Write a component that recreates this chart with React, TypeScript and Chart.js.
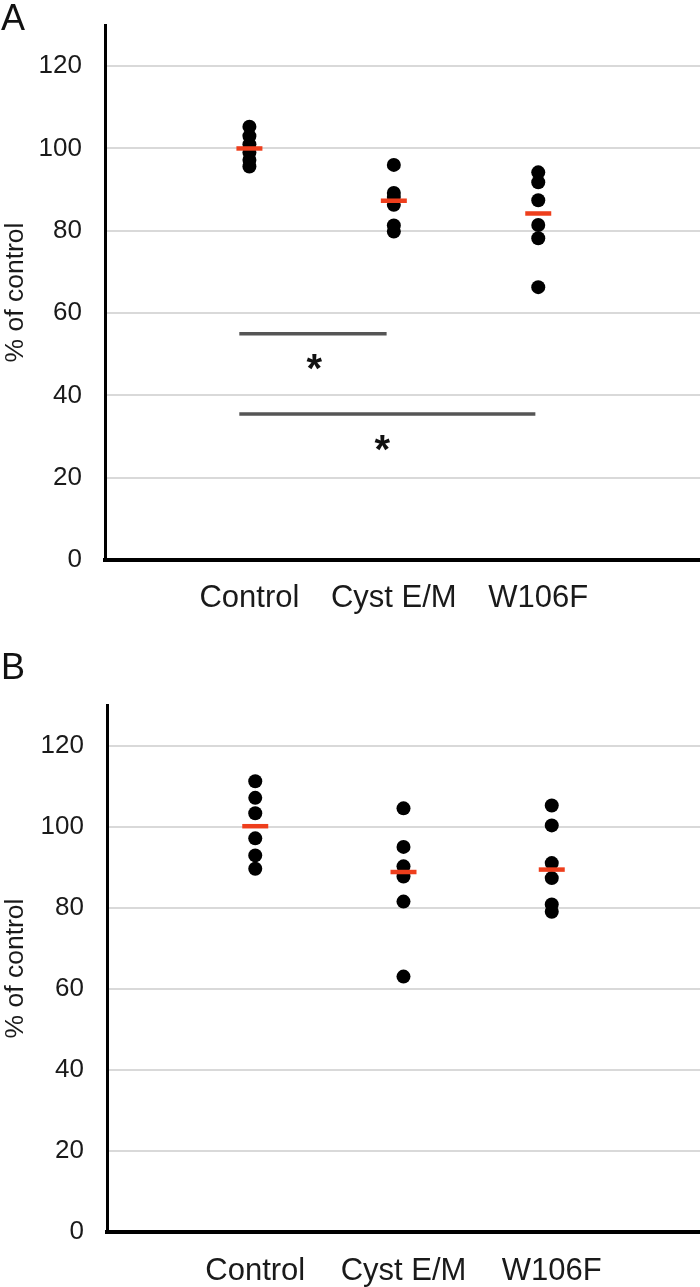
import React, { useEffect, useRef } from "react";
import { Chart, registerables } from "chart.js";

Chart.register(...registerables);

const categories = ["Control", "Cyst E/M", "W106F"];
const yTicks = [0, 20, 40, 60, 80, 100, 120];

// Panel A values (% of control)
const aControl = [95.6, 97.2, 99, 101, 103, 105.3];
const aCyst = [96, 89.2, 88.2, 86.3, 81.3, 79.8];
const aW106F = [94.2, 91.8, 87.4, 81.4, 78.2, 66.3];
const aMeans = [100, 87.3, 84.2];

// Panel B values (% of control)
const bControl = [111.2, 107.1, 103.3, 97.1, 92.9, 89.6];
const bCyst = [104.5, 95, 90.2, 87.7, 81.5, 63];
const bW106F = [105.2, 100.3, 91, 87.3, 80.8, 79];
const bMeans = [100.1, 88.8, 89.4];

// Significance bars (panel A)
const sigStart = [0.93, 0.93];
const sigEnd = [1.95, 2.98];
const sigY = [55, 35.5];
const starX = [1.45, 1.92];
const starY = [48.8, 29.1];

const FONT = '"Liberation Sans", Arial, Helvetica, sans-serif';

const starPlugin = {
  id: "stars",
  afterDatasetsDraw(chart: any, _args: any, opts: any) {
    if (!opts || !opts.xs || !opts.xs.length) return;
    const { ctx, scales } = chart;
    const size = 40;
    ctx.save();
    ctx.fillStyle = "#111";
    ctx.font = `bold ${size}px ${FONT}`;
    ctx.textAlign = "center";
    ctx.textBaseline = "alphabetic";
    opts.xs.forEach((xv: number, i: number) => {
      const px = scales.x.getPixelForValue(xv);
      const py = scales.y.getPixelForValue(opts.ys[i]);
      ctx.fillText("*", px, py + 0.58 * size);
    });
    ctx.restore();
  },
};

function buildConfig(
  groups: number[][],
  means: number[],
  o: { xMax: number; yW: number; xH: number; top: number; sig: boolean; labelPad: number }
): any {
  const datasets: any[] = [];
  datasets.push({
    type: "scatter",
    label: "mean",
    data: means.map((m, i) => ({ x: i + 1, y: m })),
    pointStyle: "line",
    pointRadius: 13,
    pointBorderWidth: 4.5,
    borderColor: "#ee3e1c",
    backgroundColor: "#ee3e1c",
    order: 0,
  });
  datasets.push({
    type: "scatter",
    label: "values",
    data: groups.flatMap((g, i) => g.map((v) => ({ x: i + 1, y: v }))),
    pointStyle: "circle",
    pointRadius: 7,
    pointBorderWidth: 0,
    backgroundColor: "#000",
    borderColor: "#000",
    order: 1,
  });
  if (o.sig) {
    sigY.forEach((yv, i) => {
      datasets.push({
        type: "scatter",
        label: "sig" + i,
        data: [
          { x: sigStart[i], y: yv },
          { x: sigEnd[i], y: yv },
        ],
        showLine: true,
        borderColor: "#555",
        borderWidth: 3.5,
        pointRadius: 0,
        order: 2,
      });
    });
  }
  return {
    type: "scatter",
    data: { datasets },
    plugins: [starPlugin],
    options: {
      animation: false,
      responsive: false,
      events: [],
      layout: { autoPadding: false, padding: { top: o.top, right: 0, bottom: 0, left: 0 } },
      plugins: {
        legend: { display: false },
        tooltip: { enabled: false },
        stars: o.sig ? { xs: starX, ys: starY } : { xs: [], ys: [] },
      },
      scales: {
        x: {
          type: "linear",
          min: 0,
          max: o.xMax,
          afterBuildTicks: (s: any) => {
            s.ticks = [1, 2, 3].map((v) => ({ value: v }));
          },
          afterFit: (s: any) => {
            s.height = o.xH;
            s.paddingLeft = 0;
            s.paddingRight = 0;
          },
          grid: { display: true, color: "rgba(0,0,0,0)", drawTicks: false },
          border: { display: true, color: "#000", width: 4 },
          ticks: {
            autoSkip: false,
            maxRotation: 0,
            padding: o.labelPad,
            color: "#1a1a1a",
            font: { family: FONT, size: 31 },
            callback: (v: any) => categories[Math.round(v) - 1] ?? "",
          },
        },
        y: {
          type: "linear",
          min: 0,
          max: 130,
          afterBuildTicks: (s: any) => {
            s.ticks = yTicks.map((v) => ({ value: v }));
          },
          afterFit: (s: any) => {
            s.width = o.yW;
            s.paddingTop = 0;
            s.paddingBottom = 0;
          },
          grid: {
            drawTicks: false,
            lineWidth: 2,
            color: (c: any) => (c.tick && c.tick.value === 0 ? "rgba(0,0,0,0)" : "#d9d9d9"),
          },
          border: { display: true, color: "#000", width: 3 },
          ticks: {
            padding: 23,
            color: "#1a1a1a",
            font: { family: FONT, size: 26 },
          },
          title: {
            display: true,
            text: "% of control",
            color: "#1a1a1a",
            font: { family: FONT, size: 26.5 },
            padding: 0,
          },
        },
      },
    },
  };
}

function Panel(props: { top: number; height: number; cfg: any }) {
  const ref = useRef<HTMLCanvasElement | null>(null);
  useEffect(() => {
    if (!ref.current) return;
    const chart = new Chart(ref.current, props.cfg);
    return () => chart.destroy();
  }, []);
  return (
    <canvas
      ref={ref}
      width={700}
      height={props.height}
      style={{ position: "absolute", left: 0, top: props.top, width: 700, height: props.height }}
    />
  );
}

export default function App() {
  const cfgA = buildConfig([aControl, aCyst, aW106F], aMeans, {
    xMax: 4.12,
    yW: 105,
    xH: 60,
    top: 25,
    sig: true,
    labelPad: 20,
  });
  const cfgB = buildConfig([bControl, bCyst, bW106F], bMeans, {
    xMax: 4.0,
    yW: 107,
    xH: 55,
    top: 85,
    sig: false,
    labelPad: 21,
  });
  const letter: React.CSSProperties = {
    position: "absolute",
    left: 1,
    fontFamily: FONT,
    fontSize: 36,
    lineHeight: "40px",
    color: "#111",
  };
  return (
    <div style={{ position: "absolute", left: 0, top: 0, width: 700, height: 1287, background: "#fff", overflow: "hidden" }}>
      <Panel top={0} height={620} cfg={cfgA} />
      <Panel top={620} height={667} cfg={cfgB} />
      <div style={{ ...letter, top: -2 }}>A</div>
      <div style={{ ...letter, top: 647 }}>B</div>
    </div>
  );
}
